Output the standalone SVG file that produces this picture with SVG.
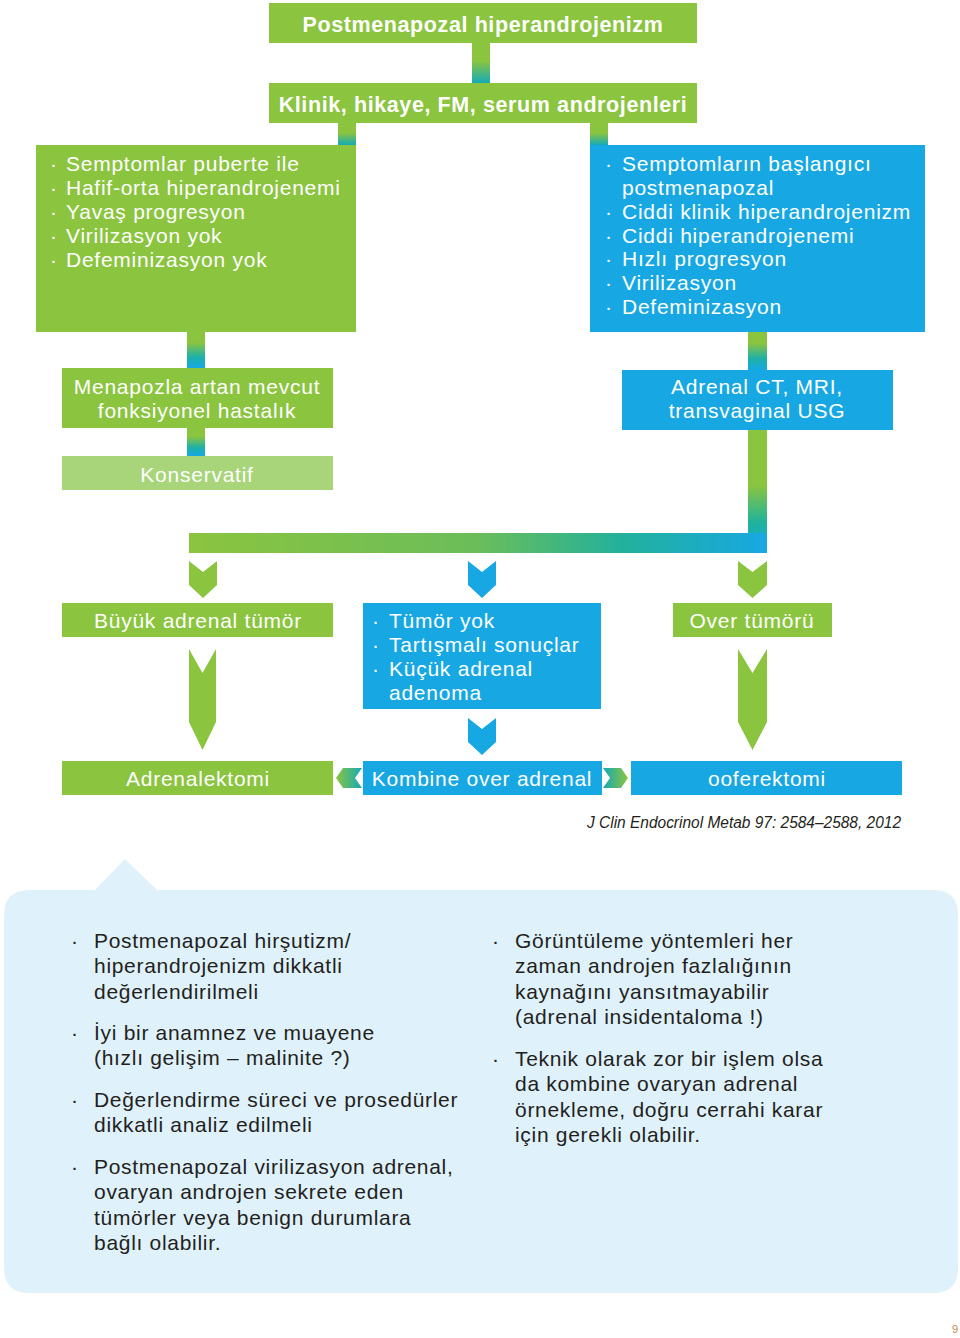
<svg xmlns="http://www.w3.org/2000/svg" width="960" height="1338" viewBox="0 0 960 1338">
<defs>
<style>
.g{fill:#8bc43f}
.b{fill:#17a8e3}
.lg{fill:#a8d47a}
.t{font-family:"Liberation Sans",Arial,sans-serif;font-size:21px;letter-spacing:0.75px;fill:#ffffff}
.tc{font-family:"Liberation Sans",Arial,sans-serif;font-size:21px;letter-spacing:0.75px;fill:#ffffff;text-anchor:middle}
.th{font-family:"Liberation Sans",Arial,sans-serif;font-size:21.5px;letter-spacing:0.6px;font-weight:bold;fill:#ffffff;text-anchor:middle}
.p{font-family:"Liberation Sans",Arial,sans-serif;font-size:21px;letter-spacing:0.7px;fill:#231f20}
</style>
<linearGradient id="vgt" x1="0" y1="0" x2="0" y2="1">
<stop offset="0" stop-color="#8bc43f"/><stop offset="0.45" stop-color="#8bc43f"/><stop offset="1" stop-color="#14aab6"/>
</linearGradient>
<linearGradient id="vgb" x1="0" y1="0" x2="0" y2="1">
<stop offset="0" stop-color="#8bc43f"/><stop offset="0.3" stop-color="#8bc43f"/><stop offset="0.7" stop-color="#1eb0a8"/><stop offset="1" stop-color="#17a8e3"/>
</linearGradient>
<linearGradient id="vlong" x1="0" y1="0" x2="0" y2="1">
<stop offset="0" stop-color="#8bc43f"/><stop offset="0.45" stop-color="#8bc43f"/><stop offset="0.75" stop-color="#1fb39a"/><stop offset="1" stop-color="#17a8e3"/>
</linearGradient>
<linearGradient id="hbar" x1="0" y1="0" x2="1" y2="0">
<stop offset="0" stop-color="#8bc43f"/><stop offset="0.5" stop-color="#6bbd5a"/><stop offset="0.75" stop-color="#22b19c"/><stop offset="1" stop-color="#17a8e3"/>
</linearGradient>
<linearGradient id="chl" x1="0" y1="0" x2="1" y2="0">
<stop offset="0" stop-color="#8bc43f"/><stop offset="1" stop-color="#14aab6"/>
</linearGradient>
<linearGradient id="chr" x1="0" y1="0" x2="1" y2="0">
<stop offset="0" stop-color="#14aab6"/><stop offset="1" stop-color="#8bc43f"/>
</linearGradient>
</defs>
<rect width="960" height="1338" fill="#ffffff"/>

<g id="connectors">
<rect x="472" y="43" width="18" height="40" fill="url(#vgt)"/>
<rect x="338" y="123" width="18" height="22" fill="url(#vgt)"/>
<rect x="590" y="123" width="18" height="22" fill="url(#vgt)"/>
<rect x="187" y="332" width="18" height="36" fill="url(#vgb)"/>
<rect x="187" y="428" width="18" height="28" fill="url(#vgb)"/>
<rect x="748" y="332" width="19" height="38" fill="url(#vgb)"/>
<rect x="748" y="430" width="19" height="123" fill="url(#vlong)"/>
<rect x="189" y="533" width="578" height="20" fill="url(#hbar)"/>
<polygon class="g" points="189,561 203,572 217,561 217,585 203,598 189,585"/>
<polygon class="b" points="468,561 482,572 496,561 496,585 482,598 468,585"/>
<polygon class="g" points="738,561 752.5,572 767,561 767,585 752.5,598 738,585"/>
<polygon class="g" points="189,649 202.5,673 216,649 216,722 202.5,750 189,722"/>
<polygon class="g" points="738,649 752.5,673 767,649 767,722 752.5,750 738,722"/>
<polygon class="b" points="468,718 482,729 496,718 496,742 482,755 468,742"/>
<polygon fill="url(#chl)" points="343,768 362,768 355,778 362,788 343,788 336,778"/>
<polygon fill="url(#chr)" points="603,768 621,768 628,778 621,788 603,788 610,778"/>
</g>

<g id="n-top">
<rect class="g" x="269" y="3" width="428" height="40"/>
<text class="th" x="483" y="32">Postmenapozal hiperandrojenizm</text>
</g>
<g id="n-klinik">
<rect class="g" x="269" y="83" width="428" height="40"/>
<text class="th" x="483" y="112">Klinik, hikaye, FM, serum androjenleri</text>
</g>
<g id="n-left">
<rect class="g" x="36" y="145" width="320" height="187"/>
<text class="t"><tspan x="50" y="171">·</tspan><tspan x="66" y="171">Semptomlar puberte ile</tspan>
<tspan x="50" y="195">·</tspan><tspan x="66" y="195">Hafif-orta hiperandrojenemi</tspan>
<tspan x="50" y="219">·</tspan><tspan x="66" y="219">Yavaş progresyon</tspan>
<tspan x="50" y="243">·</tspan><tspan x="66" y="243">Virilizasyon yok</tspan>
<tspan x="50" y="267">·</tspan><tspan x="66" y="267">Defeminizasyon yok</tspan></text>
</g>
<g id="n-right">
<rect class="b" x="590" y="145" width="335" height="187"/>
<text class="t"><tspan x="605" y="171">·</tspan><tspan x="622" y="171">Semptomların başlangıcı</tspan>
<tspan x="622" y="195">postmenapozal</tspan>
<tspan x="605" y="219">·</tspan><tspan x="622" y="219">Ciddi klinik hiperandrojenizm</tspan>
<tspan x="605" y="243">·</tspan><tspan x="622" y="243">Ciddi hiperandrojenemi</tspan>
<tspan x="605" y="266">·</tspan><tspan x="622" y="266">Hızlı progresyon</tspan>
<tspan x="605" y="290">·</tspan><tspan x="622" y="290">Virilizasyon</tspan>
<tspan x="605" y="314">·</tspan><tspan x="622" y="314">Defeminizasyon</tspan></text>
</g>
<g id="n-menapoz">
<rect class="g" x="62" y="368" width="271" height="60"/>
<text class="tc"><tspan x="197" y="394">Menapozla artan mevcut</tspan><tspan x="197" y="418">fonksiyonel hastalık</tspan></text>
</g>
<g id="n-konservatif">
<rect class="lg" x="62" y="456" width="271" height="34"/>
<text class="tc" x="197" y="482">Konservatif</text>
</g>
<g id="n-adrenalct">
<rect class="b" x="622" y="370" width="271" height="60"/>
<text class="tc"><tspan x="757" y="394">Adrenal CT, MRI,</tspan><tspan x="757" y="418">transvaginal USG</tspan></text>
</g>
<g id="n-buyuk">
<rect class="g" x="62" y="603" width="271" height="34"/>
<text class="tc" x="198" y="628">Büyük adrenal tümör</text>
</g>
<g id="n-tumoryok">
<rect class="b" x="363" y="603" width="238" height="106"/>
<text class="t"><tspan x="372" y="628">·</tspan><tspan x="389" y="628">Tümör yok</tspan>
<tspan x="372" y="652">·</tspan><tspan x="389" y="652">Tartışmalı sonuçlar</tspan>
<tspan x="372" y="676">·</tspan><tspan x="389" y="676">Küçük adrenal</tspan>
<tspan x="389" y="700">adenoma</tspan></text>
</g>
<g id="n-over">
<rect class="g" x="673" y="603" width="159" height="34"/>
<text class="tc" x="752" y="628">Over tümörü</text>
</g>
<g id="n-adrenalektomi">
<rect class="g" x="62" y="761" width="271" height="34"/>
<text class="tc" x="198" y="786">Adrenalektomi</text>
</g>
<g id="n-kombine">
<rect class="b" x="363" y="761" width="239" height="34"/>
<text class="tc" x="482" y="786">Kombine over adrenal</text>
</g>
<g id="n-ooferektomi">
<rect class="b" x="631" y="761" width="271" height="34"/>
<text class="tc" x="767" y="786">ooferektomi</text>
</g>

<text x="901" y="828" text-anchor="end" font-family="'Liberation Sans',Arial,sans-serif" font-style="italic" font-size="16" fill="#231f20" textLength="314" lengthAdjust="spacingAndGlyphs">J Clin Endocrinol Metab 97: 2584–2588, 2012</text>

<g id="panel">
<path fill="#dff1fb" d="M30,890 L95,890 L125,859 L157,890 L933,890 Q958,890 958,915 L958,1268 Q958,1293 933,1293 L30,1293 Q4,1293 4,1268 L4,915 Q4,890 30,890 Z"/>
<text class="p"><tspan x="71" y="948">·</tspan><tspan x="94" y="948">Postmenapozal hirşutizm/</tspan>
<tspan x="94" y="973">hiperandrojenizm dikkatli</tspan>
<tspan x="94" y="999">değerlendirilmeli</tspan>
<tspan x="71" y="1040">·</tspan><tspan x="94" y="1040">İyi bir anamnez ve muayene</tspan>
<tspan x="94" y="1065">(hızlı gelişim – malinite ?)</tspan>
<tspan x="71" y="1107">·</tspan><tspan x="94" y="1107">Değerlendirme süreci ve prosedürler</tspan>
<tspan x="94" y="1132">dikkatli analiz edilmeli</tspan>
<tspan x="71" y="1174">·</tspan><tspan x="94" y="1174">Postmenapozal virilizasyon adrenal,</tspan>
<tspan x="94" y="1199">ovaryan androjen sekrete eden</tspan>
<tspan x="94" y="1225">tümörler veya benign durumlara</tspan>
<tspan x="94" y="1250">bağlı olabilir.</tspan></text>
<text class="p"><tspan x="492" y="948">·</tspan><tspan x="515" y="948">Görüntüleme yöntemleri her</tspan>
<tspan x="515" y="973">zaman androjen fazlalığının</tspan>
<tspan x="515" y="999">kaynağını yansıtmayabilir</tspan>
<tspan x="515" y="1024">(adrenal insidentaloma !)</tspan>
<tspan x="492" y="1066">·</tspan><tspan x="515" y="1066">Teknik olarak zor bir işlem olsa</tspan>
<tspan x="515" y="1091">da kombine ovaryan adrenal</tspan>
<tspan x="515" y="1117">örnekleme, doğru cerrahi karar</tspan>
<tspan x="515" y="1142">için gerekli olabilir.</tspan></text>
</g>
<text x="958" y="1333" text-anchor="end" font-family="'Liberation Sans',Arial,sans-serif" font-size="11" fill="#c7874f">9</text>
</svg>
